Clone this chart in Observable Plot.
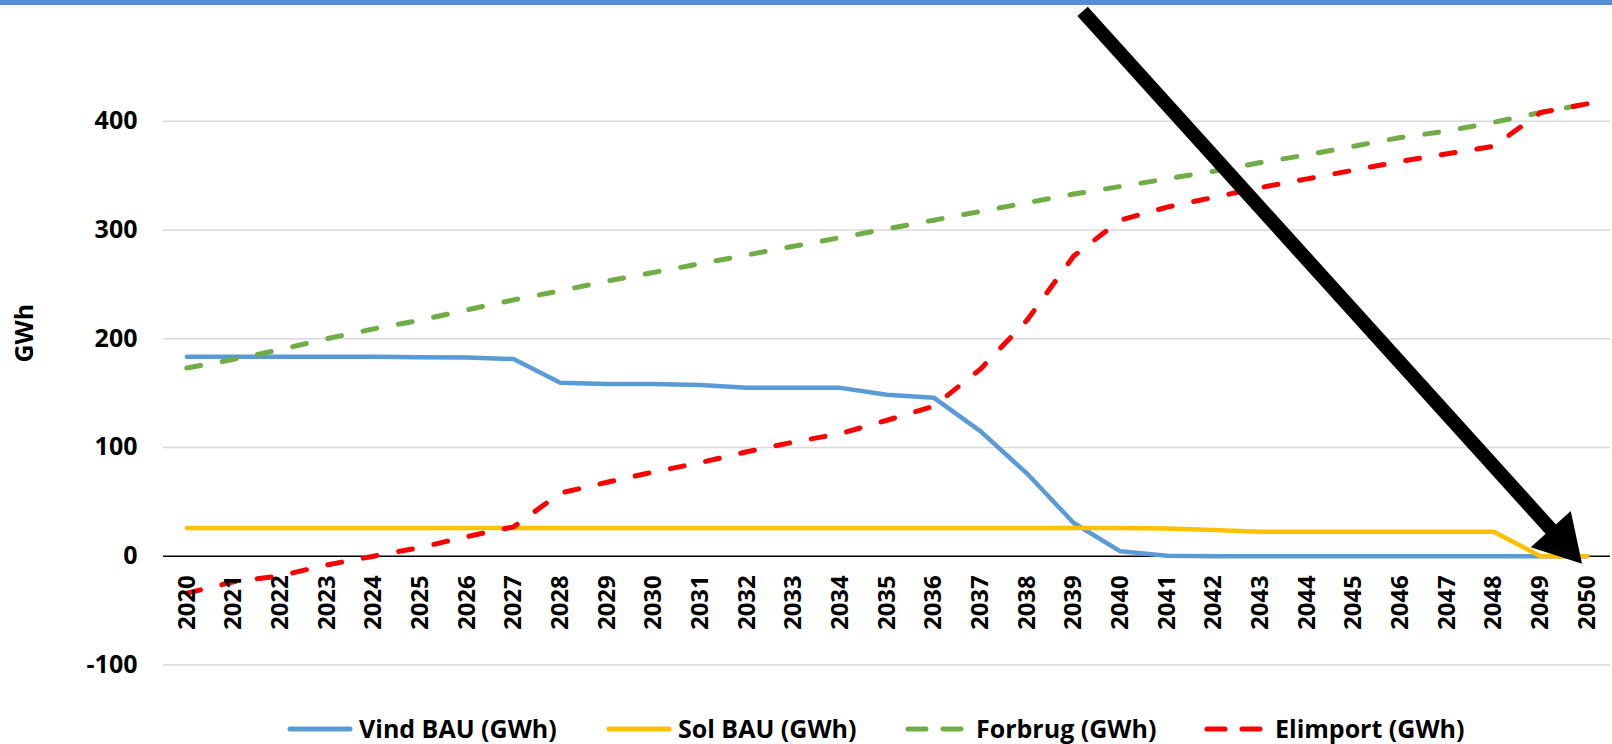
<!DOCTYPE html>
<html>
<head>
<meta charset="utf-8">
<script src="https://cdn.jsdelivr.net/npm/d3@7"></script>
<script src="https://cdn.jsdelivr.net/npm/@observablehq/plot@0.6"></script>
<style>
  html, body { margin: 0; padding: 0; background: #fff; }
  #wrap { position: relative; width: 1612px; height: 744px; overflow: hidden; font-family: "Open Sans", sans-serif; }
  #band { position: absolute; left: 0; top: 0; width: 1612px; height: 5px; background: #558ED5; }
  #chart { position: absolute; left: 0; top: 0; }
  #legend { position: absolute; left: 0; top: 713px; height: 31px; width: 1612px; }
  .item { position: absolute; top: 0; display: flex; align-items: center; height: 31px; }
  .item span { font-size: 25px; font-weight: 700; color: #000; white-space: nowrap; line-height: 31px; }
  .item svg { display: block; }
</style>
</head>
<body>
<div id="wrap">
  <div id="chart"></div>
  <div id="band"></div>
  <div id="legend"></div>
</div>
<script>
// ---- data ----
const years = [2020, 2021, 2022, 2023, 2024, 2025, 2026, 2027, 2028, 2029, 2030,
               2031, 2032, 2033, 2034, 2035, 2036, 2037, 2038, 2039, 2040,
               2041, 2042, 2043, 2044, 2045, 2046, 2047, 2048, 2049, 2050];

const vindBAU = [183.5, 183.5, 183.5, 183.5, 183.3, 183, 182.6, 181.3, 159.6, 158.4, 158.3,
                 157.4, 155, 155, 154.8, 148.5, 145.8, 115, 76, 30.5, 4.5,
                 0.5, 0, 0, 0, 0, 0, 0, 0, 0, 0];

const solBAU = [26, 26, 26, 26, 26, 26, 26, 26, 26, 26, 26,
                26, 26, 26, 26, 26, 26, 26, 26, 26, 26,
                25.5, 24, 22.5, 22.5, 22.5, 22.5, 22.5, 22.5, 0, 0];

const forbrug = [173, 181, 190, 200, 209, 217, 226.5, 235.7, 244, 253, 261,
                 269, 277, 285, 293, 301, 309, 317, 325, 333, 340,
                 347, 354, 362, 369, 377, 385, 391, 399, 408, 416];

const elimport = [-34, -23.5, -18, -8, 0, 8, 18, 27, 58, 68, 77.5,
                  86, 96, 105, 112.7, 125, 137.8, 172, 217, 276, 309,
                  321, 330, 339, 347, 355, 363, 370, 377, 408, 416];

const seriesNames = ["Vind BAU (GWh)", "Sol BAU (GWh)", "Forbrug (GWh)", "Elimport (GWh)"];
const seriesColors = ["#5B9BD5", "#FFC000", "#70AD47", "#FF0000"];
const seriesDashed = [false, false, true, true];
const seriesValues = [vindBAU, solBAU, forbrug, elimport];

const yTicks = [-100, 0, 100, 200, 300, 400];
const yTitle = "GWh";

// annotation arrow (data units: year, GWh)
const arrowFrom = {year: 2039.19, value: 501};
const arrowTo = {year: 2049.86, value: -5.5};

// ---- build ----
const font = "'Open Sans', sans-serif";
const lerp = (a, b, t) => ({year: a.year + (b.year - a.year) * t, value: a.value + (b.value - a.value) * t});
const shaftEnd = lerp(arrowFrom, arrowTo, 0.95);
const headCenter = lerp(arrowFrom, arrowTo, 0.961);

const lineMarks = seriesValues.map((vals, i) => {
  const data = years.map((y, j) => ({year: y, value: vals[j]}));
  return Plot.line(data, {
    x: "year", y: "value",
    stroke: seriesColors[i],
    strokeWidth: seriesDashed[i] ? 5 : 4.5,
    strokeDasharray: seriesDashed[i] ? "14,22" : null,
    strokeLinecap: "round",
    strokeLinejoin: "round",
    curve: "linear"
  });
});

const chart = Plot.plot({
  width: 1612,
  height: 712,
  marginLeft: 163,
  marginRight: 2,
  marginTop: 0,
  marginBottom: 12,
  style: {fontFamily: font, background: "transparent"},
  x: {domain: [2019.5, 2050.5], axis: null},
  y: {domain: [-132.7, 511], axis: null},
  marks: [
    Plot.ruleY(yTicks.filter(d => d !== 0), {y: d => d, stroke: "#D9D9D9", strokeWidth: 1.5}),
    Plot.ruleY([0], {stroke: "#000", strokeWidth: 1.4}),
    ...lineMarks,
    Plot.text(years, {
      x: d => d, y: 0, text: d => String(d),
      rotate: -90, textAnchor: "end", lineAnchor: "middle",
      dy: 19, fontSize: 24, fontWeight: 700, fill: "#000"
    }),
    Plot.text(yTicks, {
      y: d => d, text: d => String(d), frameAnchor: "left",
      textAnchor: "end", dx: -26, fontSize: 25, fontWeight: 700, fill: "#000"
    }),
    Plot.text([yTitle], {
      y: 205, frameAnchor: "left", dx: -139, text: d => d,
      rotate: -90, textAnchor: "middle", lineAnchor: "middle",
      fontSize: 25, fontWeight: 700, fill: "#000"
    }),
    Plot.link([{a: arrowFrom, b: shaftEnd}], {
      x1: d => d.a.year, y1: d => d.a.value, x2: d => d.b.year, y2: d => d.b.value,
      stroke: "#000", strokeWidth: 14, strokeLinecap: "butt"
    }),
    Plot.dot([headCenter], {
      x: "year", y: "value", symbol: "triangle", r: 20,
      fill: "#000", stroke: "none", rotate: 137.9
    })
  ]
});
document.getElementById("chart").appendChild(chart);

// ---- legend ----
const legend = document.getElementById("legend");
const itemLefts = [287, 606, 905, 1204];
seriesNames.forEach((name, i) => {
  const item = document.createElement("div");
  item.className = "item";
  item.style.left = itemLefts[i] + "px";
  const w = seriesDashed[i] ? 60 : 66;
  const svg = d3.create("svg").attr("width", w).attr("height", 12);
  svg.append("line")
    .attr("x1", 3).attr("x2", w - 3).attr("y1", 6).attr("y2", 6)
    .attr("stroke", seriesColors[i]).attr("stroke-width", 5)
    .attr("stroke-linecap", "round")
    .attr("stroke-dasharray", seriesDashed[i] ? "18,17" : null);
  item.appendChild(svg.node());
  const span = document.createElement("span");
  span.textContent = name;
  span.style.marginLeft = (seriesDashed[i] ? 11 : 6) + "px";
  item.appendChild(span);
  legend.appendChild(item);
});
</script>
</body>
</html>
